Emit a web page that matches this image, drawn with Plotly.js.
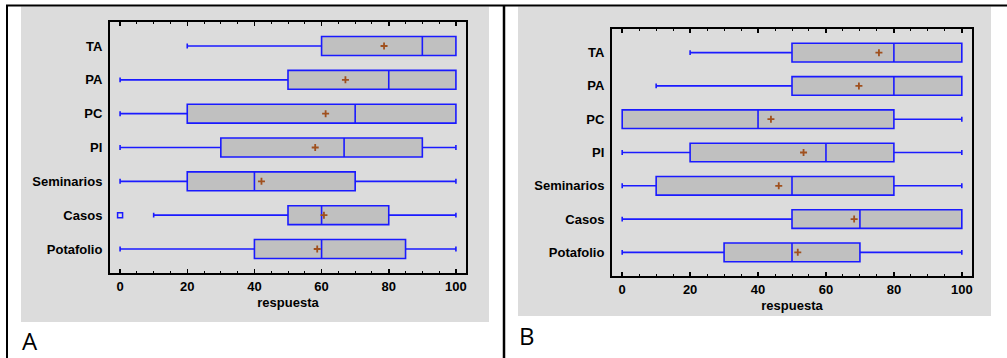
<!DOCTYPE html>
<html>
<head>
<meta charset="utf-8">
<script src="https://cdn.plot.ly/plotly-3.0.1.min.js"></script>
<style>html,body{margin:0;padding:0;background:#fff;}#chart{width:1007px;height:358px;}</style>
</head>
<body>
<div id="chart"></div>
<script>
// Categories (top to bottom)
const categories = ["TA", "PA", "PC", "PI", "Seminarios", "Casos", "Potafolio"];

// Panel A statistics
const aLower  = [20, 0, 0, 0, 0, 10, 0];
const aQ1     = [60, 50, 20, 30, 20, 50, 40];
const aMedian = [90, 80, 70, 66.7, 40, 60, 60];
const aQ3     = [100, 100, 100, 90, 70, 80, 85];
const aUpper  = [100, 100, 100, 100, 100, 100, 100];
const aMean   = [78.6, 67.1, 61.2, 58.1, 42.1, 60.7, 58.7];
const aOutlierCat = ["Casos"];
const aOutlierVal = [0];

// Panel B statistics
const bLower  = [20, 10, 0, 0, 0, 0, 0];
const bQ1     = [50, 50, 0, 20, 10, 50, 30];
const bMedian = [80, 80, 40, 60, 50, 70, 50];
const bQ3     = [100, 100, 80, 80, 80, 100, 70];
const bUpper  = [100, 100, 100, 100, 100, 100, 100];
const bMean   = [75.6, 69.7, 43.8, 53.4, 46.1, 68.3, 51.7];

const panelLabels = ["A", "B"];
const axisTitle = "respuesta";

const W = 1007, H = 358;
const px = v => v / W;
const py = v => 1 - v / H;

const FONT = "Liberation Sans, Arial, sans-serif";
const BLUE = "#1a1aff";
const BROWN = "#a0501e";

function boxTrace(lo, q1, med, q3, up, xa, ya) {
  return {
    type: "box", orientation: "h", y: categories,
    lowerfence: lo, q1: q1, median: med, q3: q3, upperfence: up,
    boxpoints: false, whiskerwidth: 0.26,
    fillcolor: "#c0c0c0",
    line: {color: BLUE, width: 1.6},
    xaxis: xa, yaxis: ya, hoverinfo: "skip"
  };
}
function meanTrace(m, xa, ya) {
  return {
    type: "scatter", mode: "markers", x: m, y: categories,
    marker: {symbol: "cross-thin", size: 5, color: BROWN, line: {color: BROWN, width: 1.8}},
    xaxis: xa, yaxis: ya, hoverinfo: "skip"
  };
}

const data = [
  boxTrace(aLower, aQ1, aMedian, aQ3, aUpper, "x", "y"),
  meanTrace(aMean, "x", "y"),
  {type: "scatter", mode: "markers", x: aOutlierVal, y: aOutlierCat,
   marker: {symbol: "square-open", size: 5, color: BLUE, line: {width: 1.5, color: BLUE}},
   xaxis: "x", yaxis: "y", hoverinfo: "skip"},
  boxTrace(bLower, bQ1, bMedian, bQ3, bUpper, "x2", "y2"),
  meanTrace(bMean, "x2", "y2")
];

const tickFont = {family: FONT, size: 13, color: "#000", weight: 700};

function xAxis(domain, anchor) {
  return {
    domain: domain, anchor: anchor, range: [-3, 103],
    tickmode: "linear", tick0: 0, dtick: 20,
    ticks: "inside", ticklen: 4, tickwidth: 1.5, tickcolor: "#000",
    minor: {dtick: 5, tick0: 0, ticks: "inside", ticklen: 2, tickwidth: 1, tickcolor: "#000", showgrid: false},
    showline: true, linewidth: 2, linecolor: "#000", mirror: "ticks",
    showgrid: false, zeroline: false,
    tickfont: tickFont, ticklabelstandoff: 0,
    title: {text: axisTitle, font: tickFont, standoff: 5}
  };
}
function yAxis(domain, anchor) {
  return {
    domain: domain, anchor: anchor, type: "category",
    categoryorder: "array", categoryarray: categories,
    range: [6.71, -0.71],
    showline: true, linewidth: 2, linecolor: "#000", mirror: true,
    ticks: "", showgrid: false, zeroline: false,
    tickfont: tickFont, ticklabelstandoff: 3
  };
}

const labelFont = {family: "Open Sans, sans-serif", size: 24, color: "#000"};

const layout = {
  width: W, height: H,
  margin: {l: 0, r: 0, t: 0, b: 0},
  paper_bgcolor: "#fff", plot_bgcolor: "#fff",
  showlegend: false, boxgap: 0.2,
  font: {family: FONT},
  xaxis: xAxis([px(110), px(466)], "y"),
  yaxis: yAxis([py(273), py(22)], "x"),
  xaxis2: xAxis([px(612), px(972)], "y2"),
  yaxis2: yAxis([py(276), py(29)], "x2"),
  shapes: [
    {type: "rect", xref: "paper", yref: "paper", layer: "below",
     x0: px(21), x1: px(489), y0: py(322), y1: py(6.5), fillcolor: "#dcdcdc", line: {width: 0}},
    {type: "rect", xref: "paper", yref: "paper", layer: "below",
     x0: px(518), x1: px(991), y0: py(316), y1: py(6.5), fillcolor: "#dcdcdc", line: {width: 0}},
    {type: "line", xref: "paper", yref: "paper", x0: px(6), x1: 1, y0: py(5.5), y1: py(5.5),
     line: {color: "#000", width: 2}},
    {type: "line", xref: "paper", yref: "paper", x0: px(7), x1: px(7), y0: py(5), y1: 0,
     line: {color: "#000", width: 2}},
    {type: "line", xref: "paper", yref: "paper", x0: px(504), x1: px(504), y0: py(5), y1: 0,
     line: {color: "#000", width: 2.5}}
  ],
  annotations: [
    {xref: "paper", yref: "paper", x: px(21), y: py(340), xanchor: "left", yanchor: "middle",
     borderpad: 0,
     text: panelLabels[0], showarrow: false, font: labelFont},
    {xref: "paper", yref: "paper", x: px(518), y: py(335), xanchor: "left", yanchor: "middle",
     borderpad: 0,
     text: panelLabels[1], showarrow: false, font: labelFont}
  ]
};

Plotly.newPlot("chart", data, layout, {displayModeBar: false, staticPlot: true});
</script>
</body>
</html>
